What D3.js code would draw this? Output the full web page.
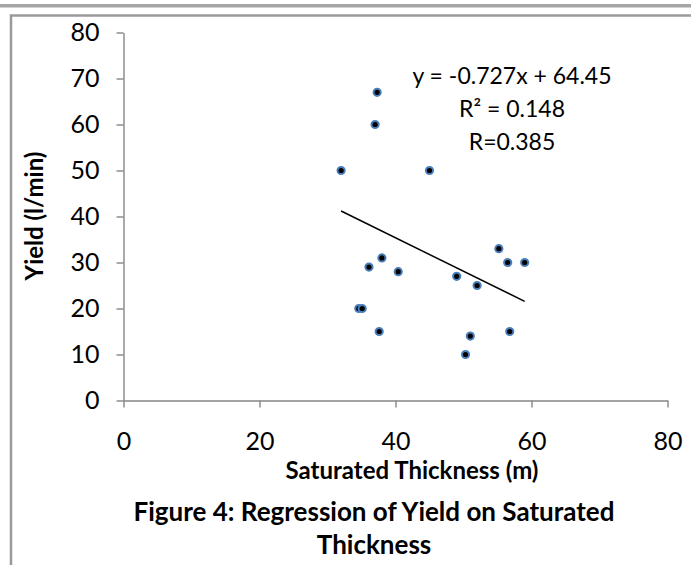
<!DOCTYPE html>
<html>
<head>
<meta charset="utf-8">
<script src="https://cdn.jsdelivr.net/npm/d3@7"></script>
<style>
  body { margin: 0; background: #fff; }
  text { font-family: Lato, "Open Sans", sans-serif; fill: #000; }
</style>
</head>
<body>
<div id="chart"></div>
<script>
// saturated thickness (m) and yield (l/min)
var thickness = [37.3, 37.0, 32.0, 45.0, 55.2, 56.5, 59.0, 38.0, 36.1, 40.4, 49.0, 52.0, 34.6, 35.1, 37.6, 56.8, 51.0, 50.3];
var yieldLpm  = [67, 60, 50, 50, 33, 30, 30, 31, 29, 28, 27, 25, 20, 20, 15, 15, 14, 10];
var xTicks = [0, 20, 40, 60, 80];
var yTicks = [0, 10, 20, 30, 40, 50, 60, 70, 80];
// linear trend shown on the chart
var slope = -0.727, intercept = 64.45;
var fitLabels = ["y = -0.727x + 64.45", "R² = 0.148", "R=0.385"];

var width = 691, height = 565;

var svg = d3.select('#chart')
  .append('svg')
  .attr('width', width)
  .attr('height', height);

// grey rule at the very top and the page frame
svg.append('rect')
  .attr('x', 0).attr('y', 4)
  .attr('width', width).attr('height', 3.5)
  .attr('fill', '#a6a6a6');

svg.append('path')
  .attr('d', 'M11,' + height + 'V15.5H' + width)
  .attr('fill', 'none')
  .attr('stroke', '#9a9a9a')
  .attr('stroke-width', 2.5);

var x = d3.scaleLinear().domain([0, 80]).range([123.5, 667.5]);
var y = d3.scaleLinear().domain([0, 80]).range([400.5, 32.5]);

var xAxis = svg.append('g')
  .attr('transform', 'translate(0,' + y(0) + ')')
  .call(d3.axisBottom(x).tickValues(xTicks).tickSize(7).tickSizeOuter(0).tickPadding(25));

var yAxis = svg.append('g')
  .attr('transform', 'translate(' + x(0) + ',0)')
  .call(d3.axisLeft(y).tickValues(yTicks).tickSize(7).tickSizeOuter(0).tickPadding(17));

[xAxis, yAxis].forEach(function (g) {
  g.selectAll('path, line').attr('stroke', '#868686').attr('stroke-width', 1.4);
  g.selectAll('text')
    .attr('font-family', 'Lato, "Open Sans", sans-serif')
    .attr('font-size', 25)
    .attr('fill', '#000');
});

// trend line across the range of the data
var xs = d3.extent(thickness);
svg.append('line')
  .attr('x1', x(xs[0])).attr('y1', y(slope * xs[0] + intercept))
  .attr('x2', x(xs[1])).attr('y2', y(slope * xs[1] + intercept))
  .attr('stroke', '#000')
  .attr('stroke-width', 1.5);

svg.append('g')
  .selectAll('circle')
  .data(thickness)
  .join('circle')
  .attr('cx', d => x(d))
  .attr('cy', (d, i) => y(yieldLpm[i]))
  .attr('r', 3.6)
  .attr('fill', '#000')
  .attr('stroke', '#4a7ebb')
  .attr('stroke-width', 2);

// equation labels
svg.append('g')
  .selectAll('text')
  .data(fitLabels)
  .join('text')
  .attr('x', 512)
  .attr('y', (d, i) => 84 + i * 33)
  .attr('text-anchor', 'middle')
  .attr('font-size', 23)
  .text(d => d);

// axis titles
svg.append('text')
  .attr('x', 412)
  .attr('y', 479)
  .attr('text-anchor', 'middle')
  .attr('font-size', 24)
  .attr('font-weight', 700)
  .text('Saturated Thickness (m)');

svg.append('text')
  .attr('transform', 'translate(43,216) rotate(-90)')
  .attr('text-anchor', 'middle')
  .attr('font-size', 24)
  .attr('font-weight', 700)
  .text('Yield (l/min)');

// figure caption
svg.append('text')
  .attr('x', 374)
  .attr('y', 521)
  .attr('text-anchor', 'middle')
  .attr('font-size', 26)
  .attr('font-weight', 700)
  .text('Figure 4: Regression of Yield on Saturated');

svg.append('text')
  .attr('x', 374)
  .attr('y', 554)
  .attr('text-anchor', 'middle')
  .attr('font-size', 26)
  .attr('font-weight', 700)
  .text('Thickness');
</script>
</body>
</html>
